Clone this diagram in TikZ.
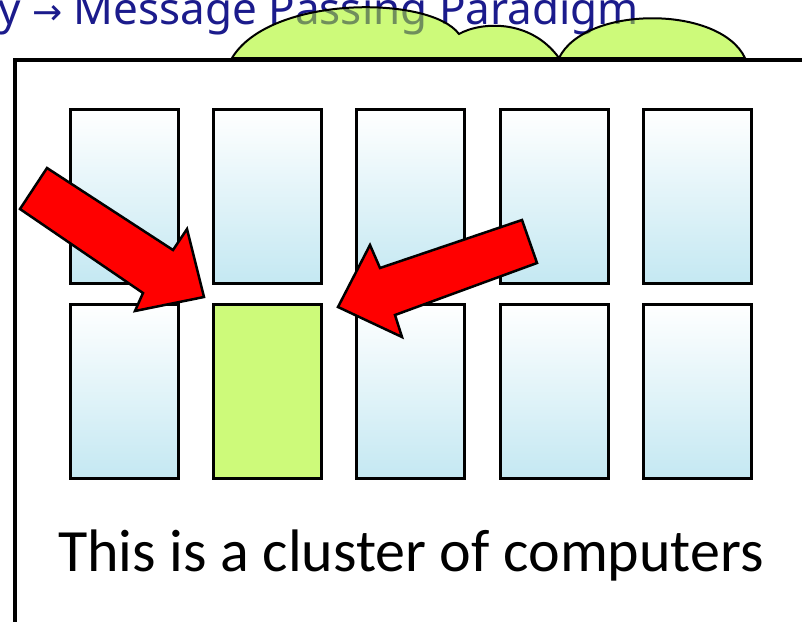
\documentclass[tikz,border=0pt]{standalone}
\usepackage{fontspec}
\setmainfont{Carlito}
\newfontfamily\titlefont{Noto Sans}
\newfontfamily\symfont{DejaVu Sans}
\definecolor{titleblue}{RGB}{27,27,140}
\definecolor{titleshade}{RGB}{112,142,92}
\definecolor{screenblue}{RGB}{196,232,242}
\definecolor{leafgreen}{RGB}{205,250,122}
\tikzset{computer/.style={draw, line width=3pt, minimum width=108pt, minimum height=174pt, inner sep=0pt}}
\tikzset{screen/.style={computer, top color=white, bottom color=screenblue}}
\tikzset{picked/.style={computer, fill=leafgreen}}
\tikzset{pointer/.style={draw, line width=2.5pt, fill=red, line join=miter}}
\tikzset{heading/.style={anchor=base west, inner sep=0pt, font=\titlefont\fontsize{44}{52}\selectfont}}
\newcommand{\cloudpath}{(232,58) .. controls (270,-5) and (430,-5) .. (459,34)
        .. controls (480,22) and (530,18) .. (559,58)
        .. controls (585,5) and (720,5) .. (745,58) -- cycle}
\newcommand{\headingtext}{y {\symfont\fontsize{36}{44}\selectfont\textrightarrow} Message Passing Paradigm}

\begin{document}
\begin{tikzpicture}[x=1pt, y=-1pt]
    \useasboundingbox (0,0) rectangle (802,621);
    \clip (0,0) rectangle (802,621);
    \node[heading, text=titleblue] (title) at (-2,24) {\headingtext};
    \fill[leafgreen] \cloudpath;
    \begin{scope}
        \clip \cloudpath;
        \node[heading, text=titleshade] (title-shade) at (-2,24) {\headingtext};
    \end{scope}
    \draw[line width=2pt] \cloudpath;
    \fill[white] (15,60) rectangle (820,640);
    \draw[line width=4pt] (15,640) -- (15,60) -- (820,60);
    \foreach \c in {0,...,4} {
        \node[screen] (pc-1-\c) at (124+143.4*\c,196.5) {};
        \ifnum\c=1
            \node[picked] (pc-2-\c) at (124+143.4*\c,391.5) {};
        \else
            \node[screen] (pc-2-\c) at (124+143.4*\c,391.5) {};
        \fi
    }
    \draw[pointer] (47,168) -- (173,250) -- (187,229) -- (204,297) -- (135,311) -- (143,293) -- (20,209) -- cycle;
    \draw[pointer] (338,307) -- (370,245) -- (380,268) -- (522,220) -- (537,263) -- (395,315) -- (402,337) -- cycle;
    \node[anchor=base west, inner sep=0pt, font=\fontsize{60}{72}\selectfont] (caption) at (58,571) {This is a cluster of computers};
\end{tikzpicture}
\end{document}
